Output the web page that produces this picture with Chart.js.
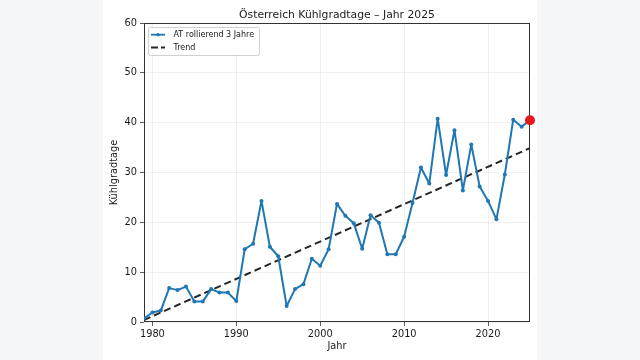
<!DOCTYPE html>
<html>
<head>
<meta charset="utf-8">
<script src="https://cdn.jsdelivr.net/npm/chart.js@4.4.1/dist/chart.umd.min.js"></script>
<style>
    html, body { margin: 0; padding: 0; background: #f5f6f8; }
    canvas { display: block; }
</style>
</head>
<body>
<canvas id="chart" width="640" height="360"></canvas>
<script>
    "use strict";

    // Data
    var years = [1979, 1980, 1981, 1982, 1983, 1984, 1985, 1986, 1987, 1988,
                 1989, 1990, 1991, 1992, 1993, 1994, 1995, 1996, 1997, 1998,
                 1999, 2000, 2001, 2002, 2003, 2004, 2005, 2006, 2007, 2008,
                 2009, 2010, 2011, 2012, 2013, 2014, 2015, 2016, 2017, 2018,
                 2019, 2020, 2021, 2022, 2023, 2024, 2025];
    var rolling3 = [0.7, 1.9, 2.3, 6.8, 6.4, 7.1, 4.1, 4.1, 6.6, 5.9,
                    5.9, 4.2, 14.6, 15.7, 24.3, 15.1, 13.2, 3.2, 6.6, 7.6,
                    12.7, 11.3, 14.6, 23.7, 21.3, 19.8, 14.7, 21.4, 19.9, 13.6,
                    13.6, 17.1, 23.9, 31.0, 27.8, 40.8, 29.5, 38.5, 26.4, 35.6,
                    27.2, 24.3, 20.6, 29.6, 40.6, 39.2, 40.5];
    var trendYears = [1979, 2025];
    var trendValues = [0.4, 34.9];
    var xTicks = [1980, 1990, 2000, 2010, 2020];
    var yTicks = [0, 10, 20, 30, 40, 50, 60];

    var seriesLabel = "AT rollierend 3 Jahre";
    var trendLabel = "Trend";
    var titleText = "Österreich Kühlgradtage – Jahr 2025";

    var BLUE = "#1f77b4";
    var TEXT = "#1a1a1a";
    var FONT = '"DejaVu Sans", sans-serif';

    function toPoints(xs, ys) {
        return xs.map(function (x, i) { return { x: x, y: ys[i] }; });
    }

    var lastIdx = years.length - 1;

    // background, frame, title and legend in matplotlib style
    var decor = {
        id: "decor",
        beforeDraw: function (chart) {
            var ctx = chart.ctx;
            ctx.save();
            ctx.fillStyle = "#ffffff";
            ctx.fillRect(103, 0, 434, 360);
            ctx.restore();
        },
        beforeDatasetsDraw: function (chart) {
            var a = chart.chartArea, ctx = chart.ctx;
            ctx.save();
            ctx.strokeStyle = "#333333";
            ctx.lineWidth = 1;
            ctx.strokeRect(Math.round(a.left) + 0.5, Math.round(a.top) + 0.5,
                Math.round(a.right - a.left) - 1, Math.round(a.bottom - a.top) - 1);
            ctx.restore();
        },
        afterDraw: function (chart) {
            var a = chart.chartArea, ctx = chart.ctx;
            ctx.save();
            // title
            ctx.fillStyle = TEXT;
            ctx.font = "10.8px " + FONT;
            ctx.textAlign = "center";
            ctx.textBaseline = "alphabetic";
            ctx.fillText(titleText, (a.left + a.right) / 2, 17.5);

            // legend box
            var bx = 148.5, by = 27.5, bw = 111, bh = 28, r = 2;
            ctx.beginPath();
            ctx.moveTo(bx + r, by);
            ctx.arcTo(bx + bw, by, bx + bw, by + bh, r);
            ctx.arcTo(bx + bw, by + bh, bx, by + bh, r);
            ctx.arcTo(bx, by + bh, bx, by, r);
            ctx.arcTo(bx, by, bx + bw, by, r);
            ctx.closePath();
            ctx.fillStyle = "rgba(255,255,255,0.85)";
            ctx.fill();
            ctx.strokeStyle = "#d0d0d0";
            ctx.lineWidth = 1;
            ctx.stroke();

            // row 1
            var y1 = 34.7, y2 = 47.5;
            ctx.strokeStyle = BLUE;
            ctx.lineWidth = 1.8;
            ctx.beginPath();
            ctx.moveTo(151, y1);
            ctx.lineTo(165, y1);
            ctx.stroke();
            ctx.fillStyle = BLUE;
            ctx.beginPath();
            ctx.arc(158, y1, 1.6, 0, Math.PI * 2);
            ctx.fill();

            // row 2
            ctx.strokeStyle = "#262626";
            ctx.setLineDash([7, 3]);
            ctx.beginPath();
            ctx.moveTo(151, y2);
            ctx.lineTo(165, y2);
            ctx.stroke();
            ctx.setLineDash([]);

            ctx.fillStyle = TEXT;
            ctx.font = "8px " + FONT;
            ctx.textAlign = "left";
            ctx.textBaseline = "middle";
            ctx.fillText(seriesLabel, 173.5, y1);
            ctx.fillText(trendLabel, 173.5, y2);
            ctx.restore();
        }
    };

    new Chart(document.getElementById("chart"), {
        type: "line",
        data: {
            datasets: [{
                label: seriesLabel,
                data: toPoints(years, rolling3),
                borderColor: BLUE,
                backgroundColor: BLUE,
                borderWidth: 2,
                borderJoinStyle: "round",
                borderCapStyle: "round",
                pointRadius: 2,
                pointBorderWidth: 0,
                tension: 0,
                order: 2
            }, {
                label: trendLabel,
                data: toPoints(trendYears, trendValues),
                borderColor: "#262626",
                borderWidth: 2,
                borderDash: [7, 4],
                pointRadius: 0,
                order: 3
            }, {
                label: "2025",
                data: [{ x: years[lastIdx], y: rolling3[lastIdx] }],
                backgroundColor: "#e41a1c",
                borderColor: "#e41a1c",
                pointRadius: 5,
                pointBorderWidth: 0,
                showLine: false,
                clip: false,
                order: 1
            }]
        },
        options: {
            responsive: false,
            devicePixelRatio: 1,
            animation: false,
            layout: { padding: { left: 0, right: 110, top: 23, bottom: 0 } },
            plugins: {
                legend: { display: false },
                title: { display: false },
                tooltip: { enabled: false }
            },
            scales: {
                x: {
                    type: "linear",
                    min: 1979,
                    max: 2025,
                    afterBuildTicks: function (s) {
                        s.ticks = xTicks.map(function (v) { return { value: v }; });
                    },
                    afterFit: function (s) { s.height = 38; },
                    grid: {
                        color: "rgba(0,0,0,0.08)",
                        tickColor: "#333333",
                        tickLength: 4,
                        lineWidth: 0.8
                    },
                    border: { display: false },
                    ticks: {
                        color: TEXT,
                        font: { family: FONT, size: 9.8 },
                        padding: 3,
                        maxRotation: 0,
                        callback: function (v) { return String(v); }
                    },
                    title: {
                        display: true,
                        text: "Jahr",
                        color: TEXT,
                        font: { family: FONT, size: 9.8 },
                        padding: { top: 0, bottom: 8 }
                    }
                },
                y: {
                    min: 0,
                    max: 60,
                    afterBuildTicks: function (s) {
                        s.ticks = yTicks.map(function (v) { return { value: v }; });
                    },
                    afterFit: function (s) { s.width = 144; },
                    grid: {
                        color: "rgba(0,0,0,0.08)",
                        tickColor: "#333333",
                        tickLength: 4,
                        lineWidth: 0.8
                    },
                    border: { display: false },
                    ticks: {
                        color: TEXT,
                        font: { family: FONT, size: 9.8 },
                        padding: 3
                    },
                    title: {
                        display: true,
                        text: "Kühlgradtage",
                        color: TEXT,
                        font: { family: FONT, size: 9.8 },
                        padding: { top: 109, bottom: 0 }
                    }
                }
            }
        },
        plugins: [decor]
    });
</script>
</body>
</html>
